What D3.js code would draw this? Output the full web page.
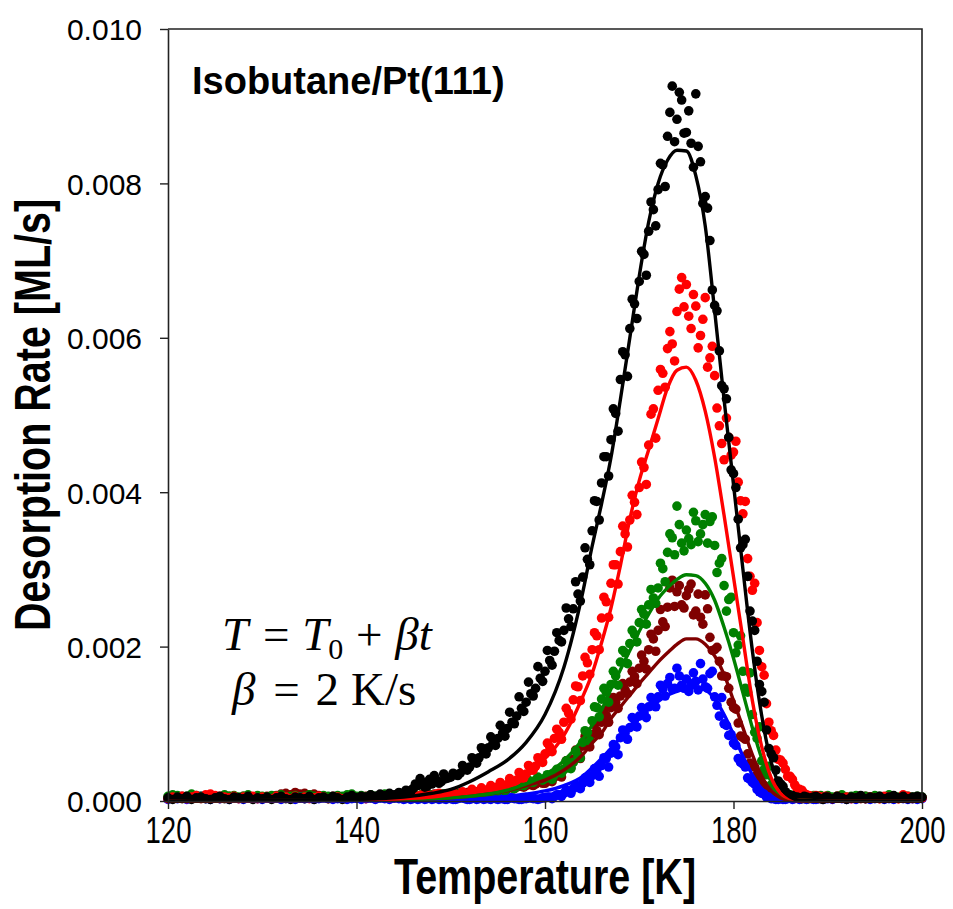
<!DOCTYPE html>
<html>
<head>
<meta charset="utf-8">
<script src="https://cdn.jsdelivr.net/npm/d3@7/dist/d3.min.js"></script>
<style>
  html, body { margin: 0; padding: 0; background: #fff; }
  svg { display: block; }
</style>
</head>
<body>
<svg id="chart" width="953" height="909"></svg>
<script>
// desorption rates are stored in units of 1e-4 ML/s
var unit = 1e-4;

// measured points: one sample every 0.5 K from 120 K to 200 K ...
var sampleStart = 120, sampleStep = 0.5;
// ... plus the in-between samples (145.25 K to 189.75 K)
var extraStart = 145.25;

var blackPts = [
  0.4,0.2,0.5,0.3,0.6,0.2,0.4,0.5,0.3,0.2, 0.4,0.6,0.3,0.2,0.5,0.4,0.3,0.6,0.2,0.4,
  0.3,0.5,0.2,0.4,0.6,0.3,0.2,0.5,0.4,0.3, 0.6,0.2,0.4,0.5,0.3,0.6,0.4,0.2,0.5,0.7,
  0.4,0.6,0.5,0.8,0.6,0.9,0.7,1.0,0.8,1.1,
  1.0,1.3,1.6,2.0,2.4,1.9,2.2,2.7,2.5,2.9,
  3.1,3.4,3.6,4.1,4.4,5.0,5.6,6.3,6.9,7.6,
  8.1,8.8,9.4,10.2,11.0,12.0,12.8,13.9,14.6,15.9,
  16.8,18.2,19.4,20.8,22.1,23.6,24.9,26.8,29.0,31.3,
  35.0,38.8,41.2,44.6,46.8,50.2,54.6,57.8,61.2,64.4,
  67.3,70.8,73.8,76.6,79.2,82.4,86.1,92.6,88.3,90.8,
  86.6,85.2,91.6,82.8,78.3,72.6,64.2,58.3,53.4,47.1,
  42.4,36.5,33.2,29.1,23.3,18.1,14.2,9.2,6.1,4.0,
  2.2,1.2,0.7,0.5,0.4,0.6,0.3,0.5,0.4,0.2,
  0.5,0.3,0.6,0.4,0.2,0.5,0.4,0.7,0.3,0.5, 0.4,0.6,0.3,0.5,0.7,0.4,0.6,0.3,0.5,0.6,
  0.5
];
var blackExtra = [
  1.4,1.2,2.2,2.9,1.8,2.8,3.3,2.3,3.5,3.0,
  3.6,3.3,4.6,4.0,5.6,4.9,6.9,6.1,8.3,7.2,
  9.8,8.4,11.5,10.0,13.5,11.6,15.4,13.6,17.4,15.5,
  19.5,17.6,21.8,20.6,25.0,22.6,28.4,25.9,32.8,30.6,
  38.9,36.4,44.6,42.1,50.8,47.9,58.2,55.0,65.0,62.5,
  71.2,68.1,77.6,74.5,82.6,79.6,89.2,85.4,91.8,86.5,
  89.4,82.1,84.8,77.4,76.8,66.2,63.5,53.8,52.1,42.9,
  40.6,32.8,33.9,24.6,22.1,15.1,12.8,6.8,5.6,2.6,
  1.9,0.9,0.7,0.5,0.3,0.5,0.4,0.6,0.3,0.5
];

var redPts = [
  0.3,0.5,0.4,0.6,0.3,0.5,0.7,0.4,0.8,0.9, 0.7,0.6,0.5,0.4,0.6,0.3,0.5,0.4,0.6,0.3,
  0.5,0.4,0.3,0.6,0.4,0.5,0.3,0.6,0.4,0.5, 0.3,0.4,0.6,0.5,0.3,0.4,0.5,0.3,0.4,0.6,
  0.4,0.5,0.3,0.6,0.4,0.5,0.6,0.4,0.5,0.6,
  0.5,0.7,0.5,0.6,0.8,0.6,0.7,0.9,0.7,0.8,
  0.6,0.8,0.8,0.9,1.0,1.2,1.1,1.3,1.5,1.6,
  1.8,1.9,2.1,2.4,2.7,3.0,3.5,4.0,4.5,5.2,
  6.1,7.0,8.1,8.9,10.2,11.4,13.1,14.8,16.2,17.9,
  19.6,21.4,23.7,25.8,28.2,30.6,32.3,34.6,36.4,38.7,
  40.6,43.2,46.1,50.8,53.2,55.4,58.6,59.2,63.4,67.8,
  66.9,61.2,64.1,60.3,65.2,57.4,55.1,48.6,44.2,47.1,
  45.2,41.3,37.2,31.4,27.3,23.1,17.4,12.6,9.1,6.6,
  5.3,4.1,3.2,2.1,1.5,1.0,0.7,0.5,0.6,0.4,
  0.5,0.3,0.6,0.4,0.5,0.3,0.4,0.6,0.3,0.5, 0.4,0.3,0.6,0.5,0.4,0.3,0.8,0.6,0.4,0.5,
  0.4
];
var redExtra = [
  0.6,0.8,0.6,0.7,0.9,0.7,0.8,1.0,0.8,0.9,
  1.1,0.8,1.2,0.9,1.5,1.1,1.7,1.4,2.0,1.7,
  2.4,1.9,2.9,2.5,3.7,3.0,4.6,4.0,5.6,5.0,
  7.5,6.4,9.3,8.0,12.0,10.6,14.9,13.0,18.6,16.4,
  21.8,19.6,26.4,23.8,30.6,28.1,35.6,32.9,39.6,37.1,
  43.9,41.0,50.1,47.0,55.9,53.6,60.8,57.0,66.3,64.0,
  62.8,65.6,58.7,62.4,56.2,58.9,50.9,46.3,49.6,44.8,
  46.6,38.9,38.8,29.1,28.2,19.5,16.3,10.2,8.5,5.4,
  4.9,3.2,2.8,1.6,1.4,0.8,0.6,0.7,0.5,0.6
];

var greenPts = [
  0.6,0.8,0.7,0.5,0.6,0.9,0.7,0.6,0.5,0.7, 0.6,0.5,0.8,0.6,0.7,0.5,0.6,0.8,0.5,0.7,
  0.6,0.5,0.7,0.6,0.8,0.5,0.6,0.7,0.5,0.6, 0.8,0.6,0.5,0.7,0.6,0.5,0.7,0.6,0.8,0.9,
  0.6,0.7,0.5,0.8,0.6,0.7,0.9,0.6,0.7,0.8,
  0.6,0.7,0.8,0.6,0.9,0.7,0.8,0.6,0.9,0.8,
  0.7,0.8,0.9,0.8,1.0,0.9,1.1,1.0,1.2,1.3,
  1.3,1.5,1.6,1.7,1.9,2.1,2.3,2.5,2.7,2.8,
  2.9,3.1,3.4,3.8,4.1,4.3,5.0,5.8,7.6,8.9,
  10.4,12.1,13.2,14.1,15.1,16.2,18.0,19.2,20.4,21.6,
  23.1,24.2,25.4,26.3,27.6,30.1,32.2,34.1,38.2,33.4,
  35.1,33.2,36.3,34.6,37.1,36.2,33.1,30.8,27.9,26.1,
  21.8,20.2,16.8,14.1,11.2,8.1,5.2,3.4,2.1,1.3,
  0.9,0.7,0.8,0.5,0.7,0.6,0.5,0.7,0.6,0.5,
  0.7,0.5,0.6,0.8,0.5,0.6,0.7,0.5,0.6,0.5, 0.7,0.6,0.5,0.8,0.6,0.5,0.7,0.6,0.5,0.6,
  0.5
];
var greenExtra = [
  0.7,0.6,0.8,0.7,0.9,0.7,0.6,0.8,0.9,0.7,
  0.8,0.9,1.0,0.9,1.1,1.0,1.2,1.1,1.3,1.4,
  1.6,1.3,2.0,1.6,2.3,2.0,2.7,2.4,3.1,2.7,
  3.4,2.8,4.1,3.6,5.2,4.2,6.5,5.6,9.1,7.8,
  12.2,10.9,14.6,12.8,16.8,15.0,19.5,17.8,22.1,20.6,
  24.8,22.9,27.4,25.6,30.8,28.4,34.6,31.9,35.8,32.4,
  34.0,37.4,33.6,35.8,33.4,36.8,29.6,31.4,24.6,26.4,
  19.2,21.4,14.6,16.6,8.9,9.6,4.1,4.5,1.7,1.9,
  0.8,0.7,0.6,0.8,0.6,0.7,0.5,0.6,0.7,0.5
];

var darkRedPts = [
  0.3,0.5,0.4,0.6,0.3,0.4,0.5,0.3,0.6,0.4, 0.5,0.3,0.4,0.6,0.5,0.4,0.6,0.5,0.3,0.5,
  0.4,0.6,0.5,0.7,0.9,1.0,0.8,1.1,0.9,1.0, 0.8,0.9,0.7,0.5,0.4,0.6,0.5,0.3,0.5,0.6,
  0.4,0.5,0.6,0.4,0.5,0.7,0.5,0.6,0.4,0.6,
  0.6,0.5,0.7,0.6,0.8,0.7,0.6,0.8,0.7,0.9,
  0.8,0.9,1.0,0.9,1.0,1.1,1.2,1.1,1.3,1.4,
  1.4,1.5,1.6,1.7,1.8,1.9,2.0,2.1,2.2,2.4,
  2.3,2.6,3.1,3.5,4.1,4.7,5.4,6.2,7.1,7.7,
  8.6,9.1,10.2,11.1,12.1,12.8,13.6,14.4,15.4,16.1,
  17.2,18.1,19.6,21.0,22.1,23.2,25.1,28.6,27.1,25.4,
  26.6,28.1,24.6,23.8,26.7,21.2,19.6,18.1,16.2,14.6,
  12.1,10.1,8.2,6.1,4.6,3.4,2.3,1.6,1.1,0.7,
  0.5,0.6,0.4,0.5,0.3,0.6,0.4,0.5,0.3,0.4,
  0.5,0.3,0.4,0.6,0.3,0.5,0.4,0.3,0.6,0.4, 0.5,0.3,0.4,0.5,0.6,0.3,0.4,0.5,0.3,0.4,
  0.4
];
var darkRedExtra = [
  0.7,0.6,0.8,0.7,0.6,0.8,0.9,0.7,0.8,0.9,
  0.9,1.0,0.9,1.1,1.0,1.2,1.3,1.2,1.4,1.5,
  1.7,1.4,1.9,1.6,2.1,1.8,2.4,2.0,2.7,2.3,
  2.9,2.5,3.8,3.1,5.2,4.3,6.6,5.5,8.4,7.0,
  9.9,8.6,11.8,10.2,13.4,12.0,15.2,13.9,16.8,15.2,
  18.9,17.1,21.6,19.4,24.8,22.6,27.6,25.2,27.9,25.0,
  27.4,24.1,26.8,22.9,24.9,19.5,19.9,16.2,16.1,12.8,
  11.9,8.4,8.0,4.9,4.4,2.5,2.0,1.2,0.9,0.6,
  0.5,0.4,0.6,0.4,0.5,0.3,0.5,0.4,0.6,0.4
];

var bluePts = [
  0.2,0.4,0.3,0.5,0.2,0.3,0.4,0.6,0.3,0.2, 0.4,0.3,0.5,0.2,0.4,0.3,0.2,0.4,0.5,0.3,
  0.2,0.4,0.3,0.5,0.2,0.4,0.3,0.2,0.5,0.3, 0.4,0.2,0.3,0.5,0.4,0.2,0.3,0.4,0.2,0.3,
  0.4,0.2,0.3,0.5,0.2,0.4,0.3,0.2,0.4,0.3,
  0.2,0.4,0.3,0.2,0.5,0.3,0.2,0.4,0.3,0.2,
  0.3,0.2,0.4,0.3,0.2,0.4,0.3,0.2,0.3,0.4,
  0.2,0.3,0.2,0.4,0.3,0.2,0.3,0.4,0.3,0.3,
  0.4,0.5,0.6,0.8,1.0,1.3,1.6,1.9,2.3,2.8,
  3.3,4.0,4.6,5.5,6.2,7.0,8.2,8.8,9.5,10.5,
  11.0,11.5,12.2,13.0,13.5,14.5,15.2,14.5,17.2,15.0,
  15.8,15.2,15.5,17.8,14.8,16.5,13.5,11.0,10.0,8.5,
  7.5,5.5,4.8,3.0,2.4,1.5,1.0,0.5,0.3,0.2,
  0.3,0.2,0.4,0.3,0.2,0.3,0.4,0.2,0.3,0.2,
  0.3,0.2,0.4,0.3,0.2,0.3,0.2,0.4,0.3,0.2, 0.3,0.4,0.2,0.3,0.2,0.4,0.3,0.2,0.3,0.2,
  0.3
];
var blueExtra = [
  0.3,0.2,0.4,0.3,0.2,0.4,0.3,0.2,0.3,0.4,
  0.2,0.3,0.4,0.2,0.3,0.2,0.4,0.3,0.2,0.3,
  0.3,0.2,0.4,0.3,0.2,0.3,0.4,0.3,0.2,0.4,
  0.5,0.3,0.8,0.6,1.4,1.0,2.1,1.6,3.0,2.4,
  4.2,3.2,5.6,4.4,7.3,6.0,9.2,8.0,10.8,9.6,
  12.1,10.8,13.4,12.2,15.0,13.6,16.0,14.6,16.2,14.6,
  14.2,16.6,14.4,15.8,14.6,16.8,12.4,13.4,9.8,8.6,
  7.2,5.0,4.4,2.8,2.2,1.2,0.9,0.5,0.3,0.2,
  0.2,0.3,0.2,0.4,0.3,0.2,0.3,0.2,0.4,0.3
];

// fitted curves, read at these temperatures
var fitTemps = [120,140,145,148,150,152,154,156,158,160,162,164,165,166,167,168,169,170,171,172,
                173,174,175,176,177,178,179,180,181,182,183,184,185,186,187,190,200];

var blackFit   = [0,0.2,0.5,1.0,1.5,2.5,3.8,5.3,7.6,11.2,17.3,27.0,33.0,38.5,44.5,52.0,60.0,68.0,75.0,80.0,
                  83.0,84.3,84.2,81.0,74.5,63.5,52.0,41.0,30.0,19.5,11.0,5.0,1.8,0.5,0.1,0,0];
var redFit     = [0,0.1,0.3,0.5,0.8,1.2,1.7,2.5,3.6,5.5,8.5,13.5,16.5,20.5,25.0,30.5,36.5,41.5,45.5,49.5,
                  53.5,55.8,56.2,54.5,50.5,44.5,37.0,29.0,21.0,13.0,7.0,3.0,1.0,0.3,0.1,0,0];
var greenFit   = [0,0.1,0.2,0.3,0.4,0.6,0.9,1.4,2.2,3.4,5.2,8.0,9.8,11.8,14.5,17.0,19.5,22.0,24.2,26.2,
                  27.6,28.7,29.3,29.2,28.2,26.0,22.5,18.5,14.0,9.5,5.5,2.5,0.9,0.3,0.1,0,0];
var darkRedFit = [0,0.1,0.2,0.3,0.4,0.6,0.9,1.3,2.0,2.7,4.0,6.0,7.5,8.8,10.7,12.2,13.7,15.2,16.6,18.0,
                  19.2,20.3,21.0,21.0,20.3,18.8,16.4,13.0,9.5,6.0,3.2,1.3,0.4,0.1,0,0,0];
var blueFit    = [0,0,0.05,0.1,0.15,0.25,0.4,0.6,0.9,1.3,2.0,3.2,4.3,5.5,6.8,8.2,9.6,10.9,12.0,12.9,
                  13.7,14.2,14.6,14.7,14.4,13.2,11.2,8.6,5.8,3.4,1.6,0.6,0.2,0.05,0,0,0];

var xTicks = [120, 140, 160, 180, 200];
var yTicks = [0, 0.002, 0.004, 0.006, 0.008, 0.010];

var series = [
  {name: 'dark red', color: '#800000', pts: darkRedPts, extra: darkRedExtra, fit: darkRedFit},
  {name: 'blue',     color: '#0000ff', pts: bluePts,    extra: blueExtra,    fit: blueFit},
  {name: 'green',    color: '#008000', pts: greenPts,   extra: greenExtra,   fit: greenFit},
  {name: 'red',      color: '#ff0000', pts: redPts,     extra: redExtra,     fit: redFit},
  {name: 'black',    color: '#000000', pts: blackPts,   extra: blackExtra,   fit: blackFit}
];

var margin = {top: 29, right: 31, bottom: 108, left: 168};
var width = 953 - margin.left - margin.right;
var height = 909 - margin.top - margin.bottom;

var svg = d3.select('#chart');
var g = svg.append('g')
  .attr('transform', 'translate(' + margin.left + ',' + margin.top + ')');

var x = d3.scaleLinear().domain([120, 200]).range([0, width]);
var y = d3.scaleLinear().domain([0, 0.010]).range([height, 0]);

var plot = g.append('g');

// scatter first, fits drawn on top
series.forEach(function(s) {
  var pts = s.pts.map(function(v, i) { return {t: sampleStart + i * sampleStep, v: v}; })
    .concat(s.extra.map(function(v, i) { return {t: extraStart + i * sampleStep, v: v}; }));
  plot.append('g')
    .selectAll('circle')
    .data(pts)
    .enter().append('circle')
    .attr('cx', function(d) { return x(d.t); })
    .attr('cy', function(d) { return y(d.v * unit); })
    .attr('r', 4.8)
    .attr('fill', s.color);
});

var line = d3.line()
  .x(function(d, i) { return x(fitTemps[i]); })
  .y(function(d) { return y(d * unit); })
  .curve(d3.curveMonotoneX);

['blue', 'dark red', 'green', 'red', 'black'].forEach(function(name) {
  var s = series.find(function(t) { return t.name === name; });
  plot.append('path')
    .datum(s.fit)
    .attr('d', line)
    .attr('fill', 'none')
    .attr('stroke', s.color)
    .attr('stroke-width', 3.4)
    .attr('stroke-linejoin', 'round');
});

// frame
g.append('path')
  .attr('d', 'M0,0H' + width + 'V' + height)
  .attr('fill', 'none')
  .attr('stroke', '#222')
  .attr('stroke-width', 1.6);

var xAxis = g.append('g')
  .attr('transform', 'translate(0,' + height + ')')
  .call(d3.axisBottom(x).tickValues(xTicks).tickSize(8).tickPadding(10).tickSizeOuter(0));

var yAxis = g.append('g')
  .call(d3.axisLeft(y).tickValues(yTicks).tickSize(8).tickPadding(18).tickSizeOuter(0)
    .tickFormat(d3.format('.3f')));

[xAxis, yAxis].forEach(function(a) {
  a.select('.domain').attr('stroke', '#222').attr('stroke-width', 1.6);
  a.selectAll('.tick line').attr('stroke', '#222').attr('stroke-width', 1.4);
  a.selectAll('.tick text')
    .attr('fill', '#000')
    .style('font-family', 'Liberation Sans, Arial, sans-serif');
});
yAxis.selectAll('.tick text').style('font-size', '30px').attr('dy', '0.36em');
xAxis.selectAll('.tick text').style('font-size', '29px')
  .attr('transform', 'translate(0,-8) scale(0.95,1.3)');

// axis titles (condensed bold look)
svg.append('text')
  .attr('transform', 'translate(' + (margin.left + width / 2) + ',894) scale(0.79,1)')
  .attr('text-anchor', 'middle')
  .style('font-family', 'Liberation Sans, Arial, sans-serif')
  .style('font-weight', 'bold')
  .style('font-size', '50px')
  .text('Temperature [K]');

svg.append('text')
  .attr('transform', 'translate(50,' + (margin.top + height / 2) + ') rotate(-90) scale(0.79,1)')
  .attr('text-anchor', 'middle')
  .style('font-family', 'Liberation Sans, Arial, sans-serif')
  .style('font-weight', 'bold')
  .style('font-size', '50px')
  .text('Desorption Rate [ML/s]');

// sample label
g.append('text')
  .attr('x', 24)
  .attr('y', 65)
  .style('font-family', 'Liberation Sans, Arial, sans-serif')
  .style('font-weight', 'bold')
  .style('font-size', '38px')
  .text('Isobutane/Pt(111)');

// heating ramp
var eq = g.append('g')
  .style('font-family', 'Liberation Serif, Times New Roman, serif')
  .style('font-size', '47px');

var l1 = eq.append('text').attr('x', 54).attr('y', 621);
l1.append('tspan').style('font-style', 'italic').text('T');
l1.append('tspan').attr('dx', 3).text(' = ');
l1.append('tspan').attr('dx', 1).style('font-style', 'italic').text('T');
l1.append('tspan').attr('dy', 9).style('font-size', '30px').text('0');
l1.append('tspan').attr('dy', -9).attr('dx', 1).text(' + ');
l1.append('tspan').attr('dx', 1).style('font-style', 'italic').text('\u03B2t');

var l2 = eq.append('text').attr('x', 64).attr('y', 676);
l2.append('tspan').style('font-style', 'italic').text('\u03B2');
l2.append('tspan').attr('dx', 6).text(' = ');
l2.append('tspan').attr('dx', 4).text('2');
l2.append('tspan').attr('dx', 12).text('K/s');
</script>
</body>
</html>
